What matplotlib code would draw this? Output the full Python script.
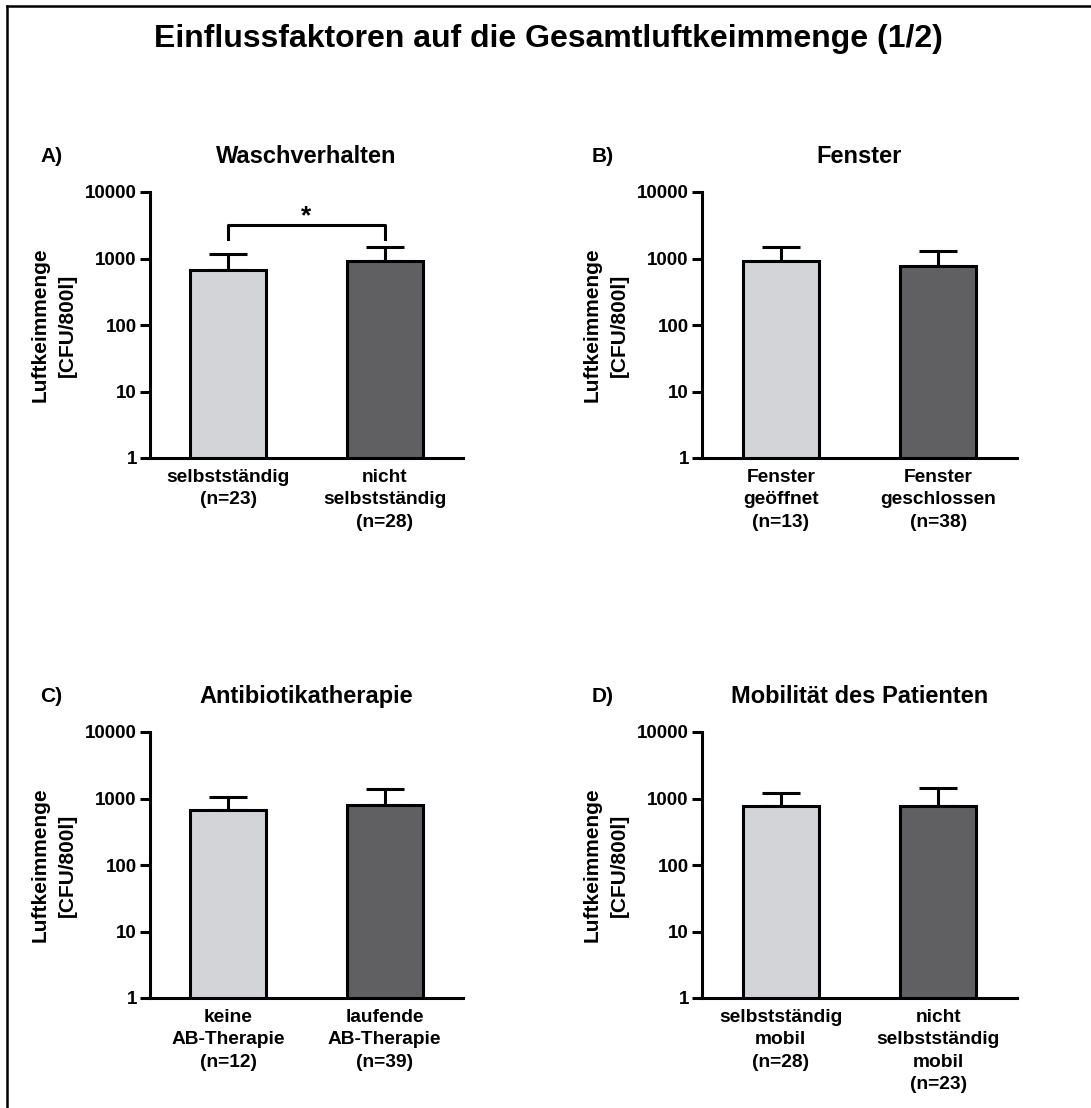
import matplotlib
matplotlib.use("Agg")
import matplotlib.pyplot as plt
import numpy as np
from matplotlib.lines import Line2D

plt.rcParams['font.family'] = ['Liberation Sans', 'DejaVu Sans']
plt.rcParams['font.weight'] = 'bold'

# ---- data ----
suptitle = "Einflussfaktoren auf die Gesamtluftkeimmenge (1/2)"
panel_letters = ["A)", "B)", "C)", "D)"]
panel_titles = ["Waschverhalten", "Fenster", "Antibiotikatherapie", "Mobilität des Patienten"]
categories_A = ["selbstständig\n(n=23)", "nicht\nselbstständig\n(n=28)"]
categories_B = ["Fenster\ngeöffnet\n(n=13)", "Fenster\ngeschlossen\n(n=38)"]
categories_C = ["keine\nAB-Therapie\n(n=12)", "laufende\nAB-Therapie\n(n=39)"]
categories_D = ["selbstständig\nmobil\n(n=28)", "nicht\nselbstständig\nmobil\n(n=23)"]
means_A = [670, 920]
upper_A = [1170, 1500]
means_B = [930, 770]
upper_B = [1470, 1310]
means_C = [680, 800]
upper_C = [1040, 1390]
means_D = [770, 780]
upper_D = [1200, 1420]
yticks = [1, 10, 100, 1000, 10000]
ytick_labels = ["1", "10", "100", "1000", "10000"]
ylabel = "Luftkeimmenge\n[CFU/800l]"
sig_bracket_y = 3190
sig_bracket_drop = 1965
sig_label = "*"

bar_colors = ["#d3d4d8", "#606062"]

W, H = 1091, 1108
fig = plt.figure(figsize=(W / 100, H / 100), dpi=100)

# axes rectangles in pixels: (left, top, right, bottom)
rects = [(150, 192, 463, 458), (702, 192, 1017, 458),
         (150, 732, 463, 998), (702, 732, 1017, 998)]
letter_pos = [(40, 162), (592, 162), (40, 702), (592, 702)]

cats = [categories_A, categories_B, categories_C, categories_D]
means = [means_A, means_B, means_C, means_D]
uppers = [upper_A, upper_B, upper_C, upper_D]

lw = 2.2
axes = []
for i in range(4):
    l, t, r, b = rects[i]
    ax = fig.add_axes([l / W, 1 - b / H, (r - l) / W, (b - t) / H])
    axes.append(ax)
    x = np.arange(2)
    m = np.array(means[i], dtype=float)
    u = np.array(uppers[i], dtype=float)
    ax.errorbar(x, m, yerr=[np.zeros(2), u - m], fmt='none', ecolor='black',
                elinewidth=lw, capsize=14, capthick=lw, zorder=1)
    ax.bar(x, m, width=0.485, color=bar_colors, edgecolor='black',
           linewidth=lw, zorder=2)
    ax.set_yscale('log')
    ax.set_ylim(1, 10000)
    ax.set_xlim(-0.5, 1.5)
    ax.set_yticks(yticks)
    ax.set_yticklabels(ytick_labels)
    ax.minorticks_off()
    ax.yaxis.set_minor_locator(matplotlib.ticker.NullLocator())
    ax.set_xticks(x)
    ax.set_xticklabels(cats[i])
    for lbl in ax.get_xticklabels():
        lbl.set_linespacing(1.4)
        lbl.set_fontsize(13.8)
        lbl.set_fontweight('bold')
    for lbl in ax.get_yticklabels():
        lbl.set_fontsize(13.5)
        lbl.set_fontweight('bold')
    ax.tick_params(axis='x', length=0, pad=8)
    ax.tick_params(axis='y', length=7.5, width=lw, pad=2)
    for s in ['top', 'right']:
        ax.spines[s].set_visible(False)
    for s in ['left', 'bottom']:
        ax.spines[s].set_linewidth(lw)
    ax.set_title(panel_titles[i], fontsize=17, fontweight='bold', pad=21)
    ax.text(-0.307, 0.5, ylabel, transform=ax.transAxes, rotation=90,
            ha='center', va='center', multialignment='center',
            fontsize=15, fontweight='bold', linespacing=1.55)
    lx, ly = letter_pos[i]
    fig.text(lx / W, 1 - ly / H, panel_letters[i], fontsize=15,
             fontweight='bold', ha='left', va='baseline')

# significance bracket in panel A
axA = axes[0]
axA.plot([0, 0, 1, 1], [sig_bracket_drop, sig_bracket_y, sig_bracket_y, sig_bracket_drop],
         color='black', linewidth=lw, clip_on=False)
axA.text(0.5, sig_bracket_y * 1.05, sig_label, ha='center', va='baseline',
         fontsize=19, fontweight='bold')

fig.text(548 / W, 1 - 47 / H, suptitle, fontsize=23, fontweight='bold',
         ha='center', va='baseline')

# frame lines (top and left)
fx = 7 / W
fy = 1 - 6 / H
fig.add_artist(Line2D([fx, 1], [fy, fy], transform=fig.transFigure,
                      color='black', linewidth=1.8))
fig.add_artist(Line2D([fx, fx], [fy, 0], transform=fig.transFigure,
                      color='black', linewidth=1.8))

fig.savefig("out.png", dpi=100)
